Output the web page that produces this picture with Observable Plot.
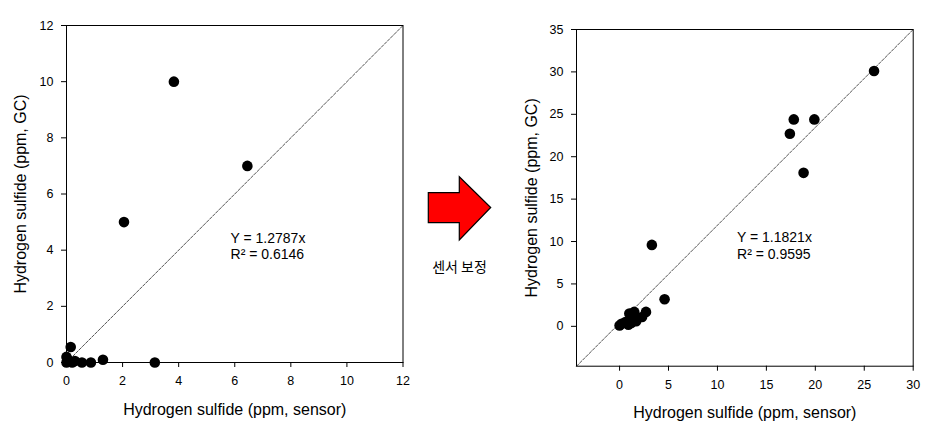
<!DOCTYPE html>
<html><head><meta charset="utf-8">
<script src="https://cdn.jsdelivr.net/npm/d3@7"></script>
<script src="https://cdn.jsdelivr.net/npm/@observablehq/plot@0.6"></script>
<style>
body{margin:0;background:#fff}
#wrap{position:relative;width:939px;height:425px;overflow:hidden;background:#fff}
#wrap > svg{position:absolute;top:0}
</style></head><body><div id="wrap"></div>
<script>
// ---- Left panel (before correction) ----
const leftSensor = [0, 0, 0.05, 0.15, 0.2, 0.3, 0.55, 0.87, 1.3, 3.15, 2.05, 3.83, 6.45];
const leftGC     = [0, 0.2, 0.1, 0.55, 0, 0.05, 0, 0, 0.1, 0, 5.0, 10.0, 7.0];
const leftTicks  = [0, 2, 4, 6, 8, 10, 12];
const leftLineX  = [0, 12];
const leftLineY  = [0, 12];
const leftEqText = ["Y = 1.2787x", "R\u00B2 = 0.6146"];
const leftEqX    = [5.85, 5.85];
const leftEqY    = [4.27, 3.68];

// ---- Right panel (after sensor correction) ----
const rightSensor = [0, 0.2, 0.6, 0.9, 1.0, 1.2, 1.3, 1.5, 1.7, 2.3, 2.7, 4.6, 3.3, 17.4, 17.8, 19.9, 18.8, 26.0];
const rightGC     = [0.1, 0.3, 0.5, 0.2, 1.5, 0.4, 1.0, 1.7, 0.6, 1.1, 1.7, 3.2, 9.6, 22.7, 24.4, 24.4, 18.1, 30.1];
const rightXTicks = [0, 5, 10, 15, 20, 25, 30];
const rightYTicks = [0, 5, 10, 15, 20, 25, 30, 35];
const rightLineX  = [-4.4, 30];
const rightLineY  = [-4.7, 35];
const rightEqText = ["Y = 1.1821x", "R\u00B2 = 0.9595"];
const rightEqX    = [12.0, 12.0];
const rightEqY    = [9.9, 7.95];

const xLabel = "Hydrogen sulfide (ppm, sensor)";
const yLabel = "Hydrogen sulfide (ppm, GC)";
const arrowText = "센서 보정";

const FONT = "'Liberation Sans', Arial, sans-serif";

function panel(o) {
  const pts = o.sensor.map((s, i) => ({s, g: o.gc[i]}));
  const line = o.lineX.map((x, i) => ({x, y: o.lineY[i]}));
  const eq = o.eqText.map((t, i) => ({t, x: o.eqX[i], y: o.eqY[i]}));
  return Plot.plot({
    width: o.width, height: 425,
    marginLeft: o.ml, marginRight: o.mr, marginTop: o.mt, marginBottom: o.mb,
    style: {fontFamily: FONT, fontSize: "12.5px", color: "#000", background: "transparent", overflow: "visible"},
    x: {domain: o.xDomain, ticks: o.xTicks, tickSize: 5, tickPadding: 9, label: null},
    y: {domain: o.yDomain, ticks: o.yTicks, tickSize: 5, tickPadding: 8, label: null},
    marks: [
      Plot.line(line, {x: "x", y: "y", stroke: "#555", strokeWidth: 1, strokeDasharray: "3,1.5"}),
      Plot.dot(pts, {x: "s", y: "g", r: 5.3, fill: "#000", stroke: "none"}),
      Plot.text(eq, {x: "x", y: "y", text: "t", textAnchor: "start", lineAnchor: "bottom", fontSize: 14, fill: "#000"}),
      Plot.frame({stroke: "#000", strokeWidth: 1}),
      Plot.text([xLabel], {frameAnchor: "bottom", dy: 52, textAnchor: "middle", lineAnchor: "bottom", fontSize: 16, fill: "#000"}),
      Plot.text([yLabel], {frameAnchor: "left", dx: -o.yLabelOff, rotate: -90, textAnchor: "middle", lineAnchor: "bottom", fontSize: 16, fill: "#000"})
    ]
  });
}

const wrap = document.getElementById("wrap");

const left = panel({
  sensor: leftSensor, gc: leftGC, xDomain: [0, 12], yDomain: [0, 12],
  xTicks: leftTicks, yTicks: leftTicks, lineX: leftLineX, lineY: leftLineY,
  eqText: leftEqText, eqX: leftEqX, eqY: leftEqY,
  width: 420, ml: 66, mr: 17.5, mt: 25, mb: 63, yLabelOff: 41
});
left.style.left = "0px";
wrap.appendChild(left);

const right = panel({
  sensor: rightSensor, gc: rightGC, xDomain: [-4.4, 30], yDomain: [-4.7, 35],
  xTicks: rightXTicks, yTicks: rightYTicks, lineX: rightLineX, lineY: rightLineY,
  eqText: rightEqText, eqX: rightEqX, eqY: rightEqY,
  width: 429, ml: 66, mr: 26.3, mt: 29, mb: 59.3, yLabelOff: 40
});
right.style.left = "510px";
wrap.appendChild(right);

// Arrow decoration with caption
const ns = "http://www.w3.org/2000/svg";
const a = document.createElementNS(ns, "svg");
a.setAttribute("width", 90); a.setAttribute("height", 425);
a.style.left = "420px";
a.innerHTML = `<polygon points="8.3,192.7 39.3,192.7 39.3,176.7 70.7,207.5 39.3,240 39.3,222.7 8.3,222.7" fill="#ff0000" stroke="#000" stroke-width="1.2" stroke-linejoin="miter"/>`;
const t = document.createElementNS(ns, "text");
t.setAttribute("x", 39.5); t.setAttribute("y", 271.5);
t.setAttribute("text-anchor", "middle");
t.setAttribute("font-family", "'Noto Sans CJK KR', sans-serif");
t.setAttribute("font-size", "14");
t.textContent = arrowText;
a.appendChild(t);
wrap.appendChild(a);
</script>
</body></html>
